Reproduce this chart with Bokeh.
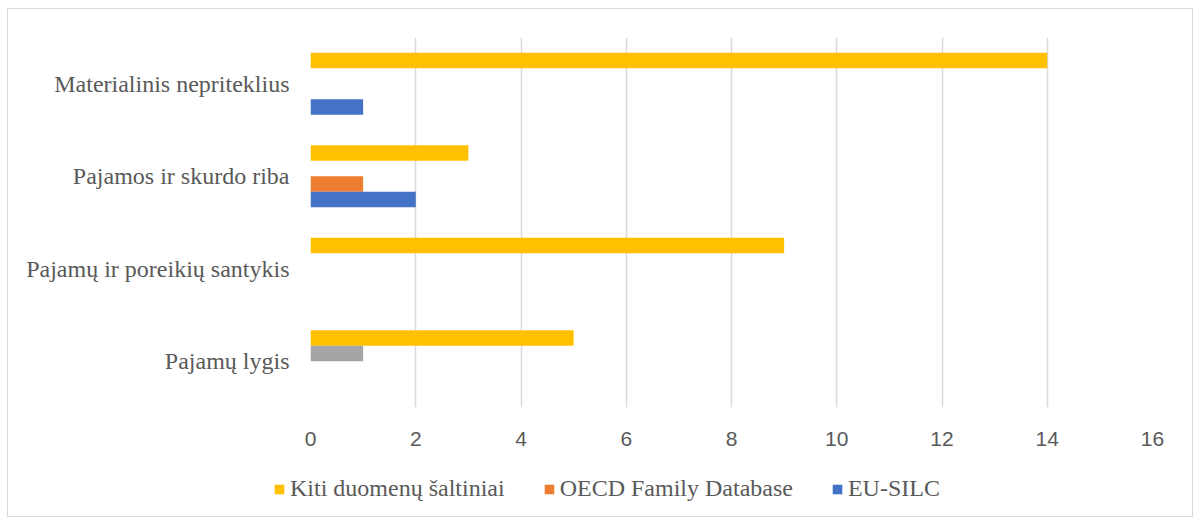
from bokeh.plotting import figure
from bokeh.models import FactorRange, Range1d, Legend, LegendItem, FixedTicker
from bokeh.layouts import column, row
from bokeh.transform import dodge
from bokeh.embed import file_html
from bokeh.resources import INLINE

categories = ["Pajamų lygis", "Pajamų ir poreikių santykis", "Pajamos ir skurdo riba", "Materialinis nepriteklius"]
kiti = [5, 9, 3, 14]
other = [1, 0, 0, 0]
oecd = [0, 0, 1, 0]
eusilc = [0, 0, 2, 1]
series_names = ["Kiti duomenų šaltiniai", "OECD Family Database", "EU-SILC"]
series_colors = ["#FFC000", "#ED7D31", "#4472C4"]
other_color = "#A5A5A5"
x_ticks = [0, 2, 4, 6, 8, 10, 12, 14, 16]

W = 1184
p = figure(width=W, height=451, output_backend="svg", toolbar_location=None,
           y_range=FactorRange(factors=categories, range_padding=0),
           x_range=Range1d(0, 16),
           min_border_left=302, min_border_right=40, min_border_top=28, min_border_bottom=53)
p.outline_line_color = None

src = dict(cat=categories, kiti=kiti, other=other, oecd=oecd, eusilc=eusilc)
bh = 0.168
p.hbar(y=dodge("cat", 0.252, range=p.y_range), right="kiti", left=0, height=bh, source=src,
       fill_color=series_colors[0], line_color=None)
p.hbar(y=dodge("cat", 0.084, range=p.y_range), right="other", left=0, height=bh, source=src,
       fill_color=other_color, line_color=None)
p.hbar(y=dodge("cat", -0.084, range=p.y_range), right="oecd", left=0, height=bh, source=src,
       fill_color=series_colors[1], line_color=None)
p.hbar(y=dodge("cat", -0.252, range=p.y_range), right="eusilc", left=0, height=bh, source=src,
       fill_color=series_colors[2], line_color=None)

p.xgrid.ticker = FixedTicker(ticks=x_ticks)
p.xgrid.grid_line_color = "#d9d9d9"
p.xgrid.grid_line_width = 1.5
p.ygrid.grid_line_color = None

p.xaxis.ticker = FixedTicker(ticks=x_ticks)
p.xaxis.axis_line_color = None
p.xaxis.major_tick_line_color = None
p.xaxis.minor_tick_line_color = None
p.xaxis.major_label_standoff = 18
p.xaxis.major_label_text_font = "Liberation Sans"
p.xaxis.major_label_text_font_size = "21px"
p.xaxis.major_label_text_color = "#595959"

p.yaxis.axis_line_color = None
p.yaxis.major_tick_line_color = None
p.yaxis.major_label_standoff = 15
p.yaxis.major_label_text_font = "Liberation Serif"
p.yaxis.major_label_text_font_size = "24px"
p.yaxis.major_label_text_color = "#595959"

# legend strip
lg = figure(width=W, height=56, output_backend="svg", toolbar_location=None,
            x_range=Range1d(0, 1), y_range=Range1d(0, 1),
            x_axis_type=None, y_axis_type=None,
            min_border_left=0, min_border_right=0, min_border_top=0, min_border_bottom=0)
lg.outline_line_color = None
lg.grid.grid_line_color = None
items = []
for name, col in zip(series_names, series_colors):
    r = lg.hbar(y=[float("nan")], right=[float("nan")], left=0, height=0.1,
                fill_color=col, line_color=None)
    items.append(LegendItem(label=name, renderers=[r]))
legend = Legend(items=items, orientation="horizontal", location=(265, 14),
                glyph_width=12, glyph_height=12, label_standoff=5, spacing=38,
                label_height=20, padding=0, margin=0, border_line_color=None,
                background_fill_alpha=0,
                label_text_font="Liberation Serif", label_text_font_size="24px",
                label_text_color="#595959")
lg.add_layout(legend, "center")

layout = column(p, row(lg, spacing=0), spacing=0)
layout.styles = {"border": "1px solid #d9d9d9", "margin-left": "7px", "margin-top": "8px"}

open("out.html", "w").write(file_html(layout, INLINE))
